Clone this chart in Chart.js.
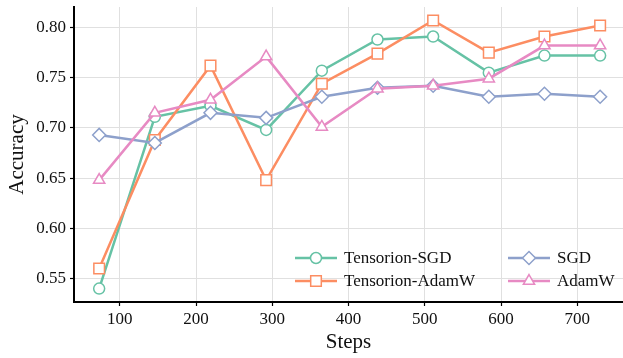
<!DOCTYPE html>
<html>
<head>
<meta charset="utf-8">
<script src="https://cdn.jsdelivr.net/npm/chart.js@4/dist/chart.umd.min.js"></script>
<style>
  html, body { margin: 0; padding: 0; background: #fff; }
  canvas { display: block; }
</style>
</head>
<body>
<canvas id="chart" width="623" height="358"></canvas>
<script>
const steps = [73, 146, 219, 292, 365, 438, 511, 584, 657, 730];
const tensorionSgd = [0.540, 0.711, 0.722, 0.698, 0.757, 0.788, 0.791, 0.755, 0.772, 0.772];
const tensorionAdamw = [0.560, 0.688, 0.762, 0.648, 0.744, 0.774, 0.807, 0.775, 0.791, 0.802];
const sgd = [0.693, 0.685, 0.715, 0.710, 0.731, 0.740, 0.742, 0.731, 0.734, 0.731];
const adamw = [0.648, 0.715, 0.728, 0.771, 0.701, 0.739, 0.742, 0.749, 0.782, 0.782];
const xTicks = [100, 200, 300, 400, 500, 600, 700];
const yTicks = [0.55, 0.60, 0.65, 0.70, 0.75, 0.80];

const serif = "'Liberation Serif', 'DejaVu Serif', serif";

function series(label, values, color, style, radius, order) {
  return {
    label: label,
    data: steps.map((s, i) => ({ x: s, y: values[i] })),
    borderColor: color,
    backgroundColor: color,
    borderWidth: 2.5,
    pointStyle: style,
    pointRadius: radius,
    pointBorderWidth: 1.5,
    pointBorderColor: color,
    pointBackgroundColor: '#fff',
    tension: 0,
    clip: 10,
    order: order
  };
}

const datasets = [
  series('Tensorion-SGD', tensorionSgd, '#66c2a5', 'circle', 5.5, 3),
  series('Tensorion-AdamW', tensorionAdamw, '#fc8d62', 'rect', 7.5, 2),
  series('SGD', sgd, '#8da0cb', 'rectRot', 6.5, 1),
  series('AdamW', adamw, '#e78ac3', 'triangle', 6.5, 0)
];

// matplotlib-style legend, two columns, lower right inside the axes
const legendPlugin = {
  id: 'mplLegend',
  afterDraw(chart) {
    const ctx = chart.ctx;
    const cols = [295, 508];
    const rows = [258, 281];
    const layout = [[0, 0], [0, 1], [1, 0], [1, 1]];
    ctx.save();
    chart.data.datasets.forEach((ds, i) => {
      const x0 = cols[layout[i][0]];
      const y = rows[layout[i][1]];
      ctx.strokeStyle = ds.borderColor;
      ctx.lineWidth = ds.borderWidth;
      ctx.beginPath();
      ctx.moveTo(x0, y);
      ctx.lineTo(x0 + 42, y);
      ctx.stroke();
      ctx.fillStyle = '#fff';
      ctx.lineWidth = ds.pointBorderWidth;
      Chart.helpers.drawPoint(ctx, {
        pointStyle: ds.pointStyle, radius: ds.pointRadius,
        borderWidth: ds.pointBorderWidth, rotation: 0
      }, x0 + 21, y);
      ctx.fillStyle = '#111';
      ctx.font = '17px ' + serif;
      ctx.textBaseline = 'middle';
      ctx.textAlign = 'left';
      ctx.fillText(ds.label, x0 + 49, y + 1);
    });
    ctx.restore();
  }
};

new Chart(document.getElementById('chart'), {
  type: 'line',
  data: { datasets: datasets },
  plugins: [legendPlugin],
  options: {
    responsive: false,
    devicePixelRatio: 1,
    animation: false,
    layout: { autoPadding: false, padding: { top: 7, right: 0, left: 0, bottom: 0 } },
    plugins: { legend: { display: false }, tooltip: { enabled: false } },
    scales: {
      x: {
        type: 'linear',
        min: 40,
        max: 760,
        afterBuildTicks: (s) => { s.ticks = xTicks.map(v => ({ value: v })); },
        afterFit: (s) => { s.height = 56; s.paddingLeft = 0; s.paddingRight = 0; },
        grid: { color: '#e0e0e0', lineWidth: 1, tickColor: '#000', tickLength: 4, tickWidth: 1.2 },
        border: { color: '#000', width: 2 },
        ticks: { color: '#111', font: { family: serif, size: 17 }, padding: 3, maxRotation: 0 },
        title: { display: true, text: 'Steps', color: '#111', font: { family: serif, size: 21 }, padding: { top: 0, bottom: 3 } }
      },
      y: {
        min: 0.5266,
        max: 0.8204,
        afterBuildTicks: (s) => { s.ticks = yTicks.map(v => ({ value: v })); },
        afterFit: (s) => { s.width = 74; s.paddingTop = 0; s.paddingBottom = 0; },
        grid: { color: '#e0e0e0', lineWidth: 1, tickColor: '#000', tickLength: 4, tickWidth: 1.2 },
        border: { color: '#000', width: 2 },
        ticks: { color: '#111', font: { family: serif, size: 17 }, padding: 4, callback: (v) => v.toFixed(2) },
        title: { display: true, text: 'Accuracy', color: '#111', font: { family: serif, size: 21 }, padding: { top: 5, bottom: 0 } }
      }
    }
  }
});
</script>
</body>
</html>
